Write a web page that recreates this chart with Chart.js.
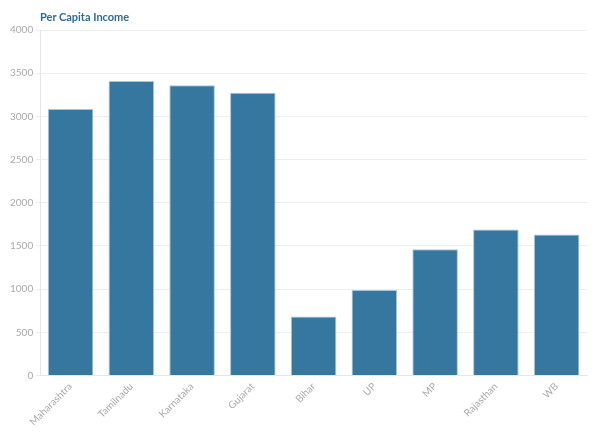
<!DOCTYPE html>
<html>
<head>
<meta charset="utf-8">
<script src="https://cdn.jsdelivr.net/npm/chart.js@4"></script>
<style>
html,body{margin:0;padding:0;background:#fff;}
#wrap{position:relative;width:600px;height:433px;}
#title{position:absolute;left:40px;top:10px;font-family:Lato,"Open Sans",sans-serif;font-weight:bold;font-size:11px;color:#2f6b98;}
</style>
</head>
<body>
<div id="wrap">
<div id="title">Per Capita Income</div>
<canvas id="c" width="600" height="433"></canvas>
</div>
<script>
const categories = ["Maharashtra","Tamilnadu","Karnataka","Gujarat","Bihar","UP","MP","Rajasthan","WB"];
const incomeValues = [3085, 3410, 3360, 3275, 682, 990, 1462, 1690, 1632];
const yTicks = [0,500,1000,1500,2000,2500,3000,3500,4000];

new Chart(document.getElementById('c'), {
  type: 'bar',
  data: {
    labels: categories,
    datasets: [{
      label: 'Per Capita Income',
      data: incomeValues,
      backgroundColor: '#35779f',
      borderColor: '#a9c6dc',
      borderWidth: 1,
      categoryPercentage: 1,
      barPercentage: 0.75
    }]
  },
  options: {
    responsive: false,
    animation: false,
    layout: { padding: { top: 30, left: 7, right: 13, bottom: 0 } },
    plugins: { legend: { display: false }, title: { display: false }, tooltip: { enabled: false } },
    scales: {
      x: {
        grid: { display: false, drawTicks: false },
        border: { color: '#e6e6e6' },
        ticks: { color: '#aaaaaa', font: { family: 'Lato', size: 10 }, maxRotation: 45, minRotation: 45, padding: 5 }
      },
      y: {
        min: 0, max: 4000,
        afterBuildTicks: (ax) => { ax.ticks = yTicks.map(v => ({ value: v })); },
        grid: { color: '#eeeeee', drawTicks: true, tickLength: 4 },
        border: { color: '#e6e6e6' },
        ticks: { color: '#aaaaaa', font: { family: 'Lato', size: 10 }, padding: 3, callback: (v) => String(v) }
      }
    }
  }
});
</script>
</body>
</html>
